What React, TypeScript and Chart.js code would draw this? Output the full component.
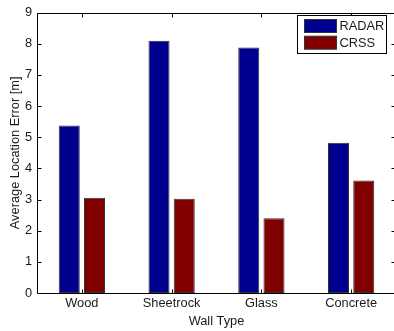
import React, { useEffect, useRef } from "react";
import { Chart, registerables } from "chart.js";

Chart.register(...registerables);

const categories = ["Wood", "Sheetrock", "Glass", "Concrete"];
const radarValues = [5.38, 8.1, 7.88, 4.82];
const crssValues = [3.06, 3.03, 2.4, 3.61];
const seriesNames = ["RADAR", "CRSS"];
const seriesColors = ["#00008F", "#800000"];
const yMin = 0;
const yMax = 9;
const yStep = 1;
const xTitle = "Wall Type";
const yTitle = "Average Location Error [m]";

const FONT = "'Liberation Sans', Arial, Helvetica, sans-serif";
const FONT_SIZE = 12.8;
const TEXT = "#1a1a1a";

const boxPlugin = {
  id: "matlabBox",
  afterDatasetsDraw(chart: any) {
    const { ctx, chartArea: a, scales } = chart;
    const x = scales.x;
    const y = scales.y;
    const L = Math.round(a.left) + 0.5;
    const R = Math.round(a.right) - 0.5;
    const T = Math.round(a.top) + 0.5;
    const B = Math.round(a.bottom) + 0.5;
    ctx.save();
    ctx.strokeStyle = "#000";
    ctx.lineWidth = 1;
    ctx.beginPath();
    ctx.rect(L, T, R - L, B - T);
    ctx.stroke();
    const tl = 4;
    ctx.beginPath();
    for (let v = yMin; v <= yMax; v += yStep) {
      const py = Math.round(y.getPixelForValue(v)) + 0.5;
      ctx.moveTo(L, py);
      ctx.lineTo(L + tl, py);
      ctx.moveTo(R, py);
      ctx.lineTo(R - tl, py);
    }
    for (let i = 0; i < categories.length; i++) {
      const px = Math.round(x.getPixelForValue(i)) + 0.5;
      ctx.moveTo(px, B);
      ctx.lineTo(px, B - tl);
      ctx.moveTo(px, T);
      ctx.lineTo(px, T + tl);
    }
    ctx.stroke();
    ctx.restore();
  },
  afterDraw(chart: any) {
    const { ctx } = chart;
    const bx = 297.5;
    const by = 15.5;
    const bw = 89;
    const bh = 38;
    ctx.save();
    ctx.fillStyle = "#fff";
    ctx.fillRect(bx, by, bw, bh);
    ctx.strokeStyle = "#000";
    ctx.lineWidth = 1;
    ctx.strokeRect(bx, by, bw, bh);
    ctx.font = `${FONT_SIZE}px ${FONT}`;
    ctx.textBaseline = "middle";
    ctx.textAlign = "left";
    chart.data.datasets.forEach((ds: any, i: number) => {
      const sy = 19.5 + i * 16.7;
      ctx.fillStyle = ds.backgroundColor;
      ctx.fillRect(304.5, sy, 32, 13);
      ctx.strokeStyle = "#333";
      ctx.strokeRect(304.5, sy, 32, 13);
      ctx.fillStyle = TEXT;
      ctx.fillText(ds.label, 339.5, sy + 7);
    });
    ctx.restore();
  },
};

export default function App() {
  const ref = useRef<HTMLCanvasElement | null>(null);

  useEffect(() => {
    document.body.style.margin = "0";
    document.body.style.background = "#fff";
    const canvas = ref.current;
    if (!canvas) return;
    const chart = new Chart(canvas, {
      type: "bar",
      data: {
        labels: categories,
        datasets: [
          {
            label: seriesNames[0],
            data: radarValues,
            backgroundColor: seriesColors[0],
            borderColor: "#333",
            borderWidth: 1,
            borderSkipped: false,
          },
          {
            label: seriesNames[1],
            data: crssValues,
            backgroundColor: seriesColors[1],
            borderColor: "#333",
            borderWidth: 1,
            borderSkipped: false,
          },
        ],
      },
      options: {
        responsive: false,
        animation: false,
        devicePixelRatio: 1,
        layout: { padding: { top: 10, right: 0, bottom: 0, left: 0 } },
        datasets: {
          bar: { categoryPercentage: 0.5625, barPercentage: 0.833 },
        },
        plugins: {
          legend: { display: false },
          tooltip: { enabled: false },
          title: { display: false },
        },
        scales: {
          x: {
            type: "category",
            offset: true,
            grid: { display: false, drawTicks: false },
            border: { display: false },
            ticks: {
              color: TEXT,
              font: { family: FONT, size: FONT_SIZE },
              padding: 3,
              maxRotation: 0,
              autoSkip: false,
            },
            title: {
              display: true,
              text: xTitle,
              color: TEXT,
              font: { family: FONT, size: FONT_SIZE },
              padding: { top: 0, bottom: 2 },
            },
            afterFit: (s: any) => {
              s.height = 38;
            },
          },
          y: {
            min: yMin,
            max: yMax,
            grid: { display: false, drawTicks: false },
            border: { display: false },
            ticks: {
              stepSize: yStep,
              color: TEXT,
              font: { family: FONT, size: FONT_SIZE },
              padding: 5,
            },
            title: {
              display: true,
              text: yTitle,
              color: TEXT,
              font: { family: FONT, size: FONT_SIZE },
              padding: { top: 8, bottom: 0 },
            },
            afterFit: (s: any) => {
              s.width = 37;
            },
          },
        },
      },
      plugins: [boxPlugin],
    });
    return () => chart.destroy();
  }, []);

  return (
    <div
      style={{
        position: "fixed",
        left: 0,
        top: 0,
        width: 394,
        height: 331,
        overflow: "hidden",
        background: "#fff",
      }}
    >
      <canvas ref={ref} width={396} height={331} style={{ display: "block" }} />
    </div>
  );
}
